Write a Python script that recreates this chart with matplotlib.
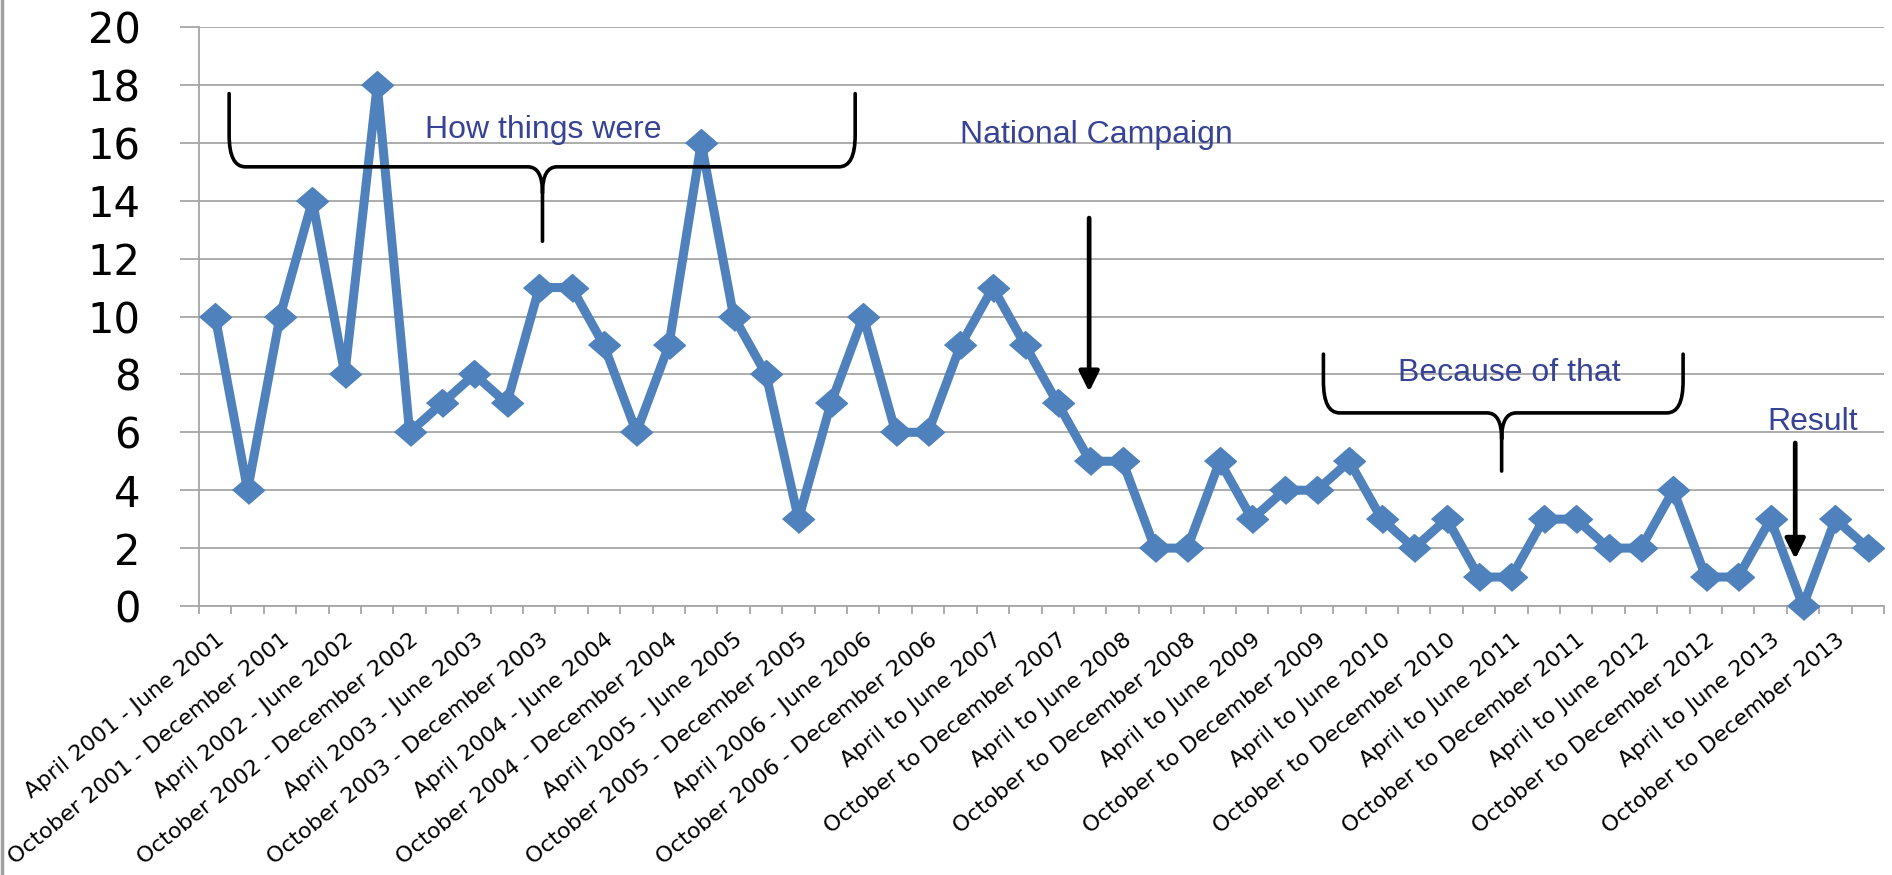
import numpy as np
import matplotlib
matplotlib.use("Agg")
import matplotlib.pyplot as plt
from matplotlib.path import Path
from matplotlib.patches import PathPatch
from matplotlib.lines import Line2D
from matplotlib.transforms import ScaledTranslation

# quarterly counts, April-June 2001 .. Jan-March 2014
values = [10, 4, 10, 14, 8, 18, 6, 7, 8, 7,
          11, 11, 9, 6, 9, 16, 10, 8, 3, 7,
          10, 6, 6, 9, 11, 9, 7, 5, 5, 2,
          2, 5, 3, 4, 4, 5, 3, 2, 3, 1,
          1, 3, 3, 2, 2, 4, 1, 1, 3, 0,
          3, 2]

# only every other quarter gets a label on the axis
tick_labels = [
    "April 2001 - June 2001", "October 2001 - December 2001",
    "April 2002 - June 2002", "October 2002 - December 2002",
    "April 2003 - June 2003", "October 2003 - December 2003",
    "April 2004 - June 2004", "October 2004 - December 2004",
    "April 2005 - June 2005", "October 2005 - December 2005",
    "April 2006 - June 2006", "October 2006 - December 2006",
    "April to June 2007", "October to December 2007",
    "April to June 2008", "October to December 2008",
    "April to June 2009", "October to December 2009",
    "April to June 2010", "October to December 2010",
    "April to June 2011", "October to December 2011",
    "April to June 2012", "October to December 2012",
    "April to June 2013", "October to December 2013",
]

y_ticks = [0, 2, 4, 6, 8, 10, 12, 14, 16, 18, 20]

LINE = "#4f81bd"
NOTE = "#374394"
GRID = "#a6a6a6"


def draw_brace(ax, x_left, x_right, x_mid, y_top, y_bar, y_tip, rx=0.5, ry=1.1, cx=0.45, cy=0.9):
    """Curly brace opening downward: two arms down from y_top to y_bar, cusp down to y_tip."""
    verts = [
        (x_left, y_top), (x_left, y_bar + ry),
        (x_left, y_bar), (x_left + rx, y_bar),
        (x_mid - cx, y_bar),
        (x_mid, y_bar), (x_mid, y_bar - cy),
        (x_mid, y_tip),
        (x_mid, y_bar - cy),
        (x_mid, y_bar), (x_mid + cx, y_bar),
        (x_right - rx, y_bar),
        (x_right, y_bar), (x_right, y_bar + ry),
        (x_right, y_top),
    ]
    codes = [
        Path.MOVETO, Path.LINETO,
        Path.CURVE3, Path.CURVE3,
        Path.LINETO,
        Path.CURVE3, Path.CURVE3,
        Path.LINETO,
        Path.MOVETO,
        Path.CURVE3, Path.CURVE3,
        Path.LINETO,
        Path.CURVE3, Path.CURVE3,
        Path.LINETO,
    ]
    ax.add_patch(PathPatch(Path(verts, codes), fill=False, lw=2.6,
                           edgecolor="black", capstyle="round", joinstyle="round",
                           zorder=4, clip_on=False))


fig = plt.figure(figsize=(18.92, 8.75), dpi=100)
ax = fig.add_axes([199 / 1892, 1 - 606 / 875, (1884 - 199) / 1892, (606 - 27) / 875])

x = np.arange(len(values))
diamond = [(-1, 0), (0, 0.87), (1, 0), (0, -0.87)]
ax.plot(x, values, color=LINE, lw=6.5, marker=diamond, markersize=23,
        markerfacecolor=LINE, markeredgecolor=LINE, markeredgewidth=1,
        zorder=3, clip_on=False)

ax.set_xlim(-0.5, len(values) - 0.5)
ax.set_ylim(0, 20)
ax.set_yticks(y_ticks)
ax.set_yticklabels([str(v) for v in y_ticks])

# tick marks sit between categories, labels at every second category
ax.set_xticks(np.arange(len(values) + 1) - 0.5)
ax.set_xticklabels([])
ax.set_xticks(x[::2], minor=True)
ax.set_xticklabels(tick_labels, minor=True, rotation=39, ha="right", va="top",
                   rotation_mode="anchor", fontsize=16)
shift = ScaledTranslation(5 / 100, 0, fig.dpi_scale_trans)
for lab in ax.get_xticklabels(minor=True):
    lab.set_transform(lab.get_transform() + shift)
ax.tick_params(axis="x", which="major", length=6, width=1.3, color=GRID, direction="out")
ax.tick_params(axis="x", which="minor", length=0, pad=17)
ax.tick_params(axis="y", length=14, width=1.3, color=GRID, labelsize=30, pad=28)

ax.yaxis.grid(True, color=GRID, lw=1.3)
ax.set_axisbelow(True)
for side in ("top", "right"):
    ax.spines[side].set_visible(False)
for side in ("left", "bottom"):
    ax.spines[side].set_color(GRID)
    ax.spines[side].set_linewidth(1.3)

# annotations
draw_brace(ax, 0.43, 19.75, 10.1, 17.7, 15.17, 12.6)
draw_brace(ax, 34.2, 45.3, 39.7, 8.7, 6.67, 4.66)

ax.text(10.12, 16.44, "How things were", color=NOTE, fontsize=23,
        family="Liberation Sans", ha="center", va="center", zorder=5)
ax.text(27.18, 16.27, "National Campaign", color=NOTE, fontsize=23,
        family="Liberation Sans", ha="center", va="center", zorder=5)
ax.text(39.93, 8.05, "Because of that", color=NOTE, fontsize=23,
        family="Liberation Sans", ha="center", va="center", zorder=5)
ax.text(49.3, 6.36, "Result", color=NOTE, fontsize=23,
        family="Liberation Sans", ha="center", va="center", zorder=5)

arrow = dict(arrowstyle="-|>", lw=3.4, color="black", mutation_scale=30, shrinkA=0, shrinkB=0)
ax.annotate("", xy=(26.97, 7.4), xytext=(26.97, 13.4), arrowprops=arrow, zorder=5)
ax.annotate("", xy=(48.76, 1.62), xytext=(48.76, 5.63), arrowprops=arrow, zorder=5)

# thin grey frame edge on the left of the slide
fig.add_artist(Line2D([0.001, 0.001], [0, 1], transform=fig.transFigure, color="#a0a0a0", lw=2.5))

fig.savefig("out.png", dpi=100)
